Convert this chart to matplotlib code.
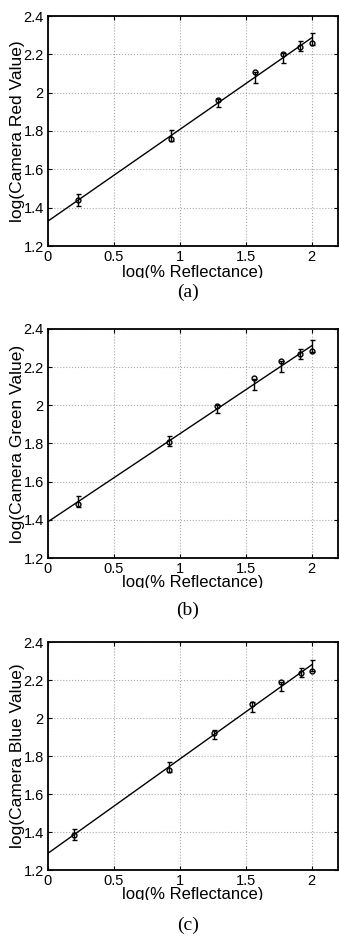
import matplotlib
matplotlib.use('Agg')
import matplotlib.pyplot as plt
from matplotlib.transforms import Bbox, TransformedBbox

plt.rcParams['font.family'] = ['Liberation Sans', 'DejaVu Sans']

# measured reflectance (log) for each channel
x_red = [0.23, 0.93, 1.29, 1.57, 1.78, 1.91, 2.0]
x_green = [0.23, 0.92, 1.28, 1.56, 1.77, 1.91, 2.0]
x_blue = [0.20, 0.92, 1.26, 1.55, 1.77, 1.92, 2.0]

# camera values (circles)
y_red = [1.44, 1.757, 1.962, 2.108, 2.20, 2.24, 2.257]
y_green = [1.485, 1.81, 1.997, 2.141, 2.23, 2.27, 2.283]
y_blue = [1.383, 1.725, 1.92, 2.073, 2.187, 2.237, 2.249]

# error bar centres and half widths
eb_red = [1.44, 1.775, 1.947, 2.08, 2.18, 2.243, 2.28]
err_red = [0.03, 0.028, 0.022, 0.03, 0.026, 0.025, 0.03]
eb_green = [1.496, 1.813, 1.98, 2.108, 2.204, 2.27, 2.31]
err_green = [0.03, 0.028, 0.022, 0.03, 0.027, 0.025, 0.03]
eb_blue = [1.387, 1.744, 1.913, 2.057, 2.166, 2.24, 2.275]
err_blue = [0.028, 0.026, 0.022, 0.026, 0.026, 0.022, 0.028]

# fitted lines, endpoints
fit_x = [0, 2]
fit_red = [1.33, 2.286]
fit_green = [1.39, 2.312]
fit_blue = [1.288, 2.28]

xticks = [0, 0.5, 1, 1.5, 2]
xtick_labels = ['0', '0.5', '1', '1.5', '2']
yticks = [1.2, 1.4, 1.6, 1.8, 2.0, 2.2, 2.4]
ytick_labels = ['1.2', '1.4', '1.6', '1.8', '2', '2.2', '2.4']

panels = [
    ('log(Camera Red Value)', '(a)', x_red, y_red, eb_red, err_red, fit_red),
    ('log(Camera Green Value)', '(b)', x_green, y_green, eb_green, err_green, fit_green),
    ('log(Camera Blue Value)', '(c)', x_blue, y_blue, eb_blue, err_blue, fit_blue),
]

W, H = 339, 939
fig = plt.figure(figsize=(W / 100, H / 100), dpi=100)

# axes boxes in pixels: top, bottom; xlabel baseline, clip line; caption centre
boxes = [(16, 246, 277, 277.5, 292), (329, 558, 587.5, 588, 610), (642, 870, 899, 899.5, 925)]
left, right = 48, 338

for (ylab, cap, xs, ys, eb, err, fit), (top, bot, xl_y, xl_clip, cap_y) in zip(panels, boxes):
    ax = fig.add_axes([left / W, 1 - bot / H, (right - left) / W, (bot - top) / H])
    ax.plot(fit_x, fit, color='k', lw=1.0)
    ax.errorbar(xs, eb, yerr=err, fmt='none', ecolor='k', elinewidth=1.0, capsize=1.8, capthick=1.0)
    ax.plot(xs, ys, 'o', ms=3.5, mfc='none', mec='k', mew=1.0)
    ax.set_xlim(0, 2.2)
    ax.set_ylim(1.2, 2.4)
    ax.set_xticks(xticks)
    ax.set_xticklabels(xtick_labels)
    ax.set_yticks(yticks)
    ax.set_yticklabels(ytick_labels)
    ax.tick_params(direction='in', length=3, width=0.8, labelsize=10.5, pad=3,
                   top=True, right=True, colors='k')
    ax.grid(True, linestyle=':', color='#aaaaaa', lw=0.8)
    for s in ax.spines.values():
        s.set_linewidth(1.3)
    ax.set_ylabel(ylab, fontsize=12.5)
    ax.yaxis.set_label_coords(-0.08, 0.5)

    t = fig.text((left + right) / 2 / W, 1 - xl_y / H, 'log(% Reflectance)', fontsize=12,
                 ha='center', va='baseline', clip_on=True)
    t.set_clip_box(TransformedBbox(Bbox([[0, 1 - xl_clip / H], [1, 1 - bot / H]]), fig.transFigure))

    fig.text(188 / W, 1 - cap_y / H, cap, fontsize=14, family='Liberation Serif',
             ha='center', va='center')

fig.savefig('out.png', dpi=100)
